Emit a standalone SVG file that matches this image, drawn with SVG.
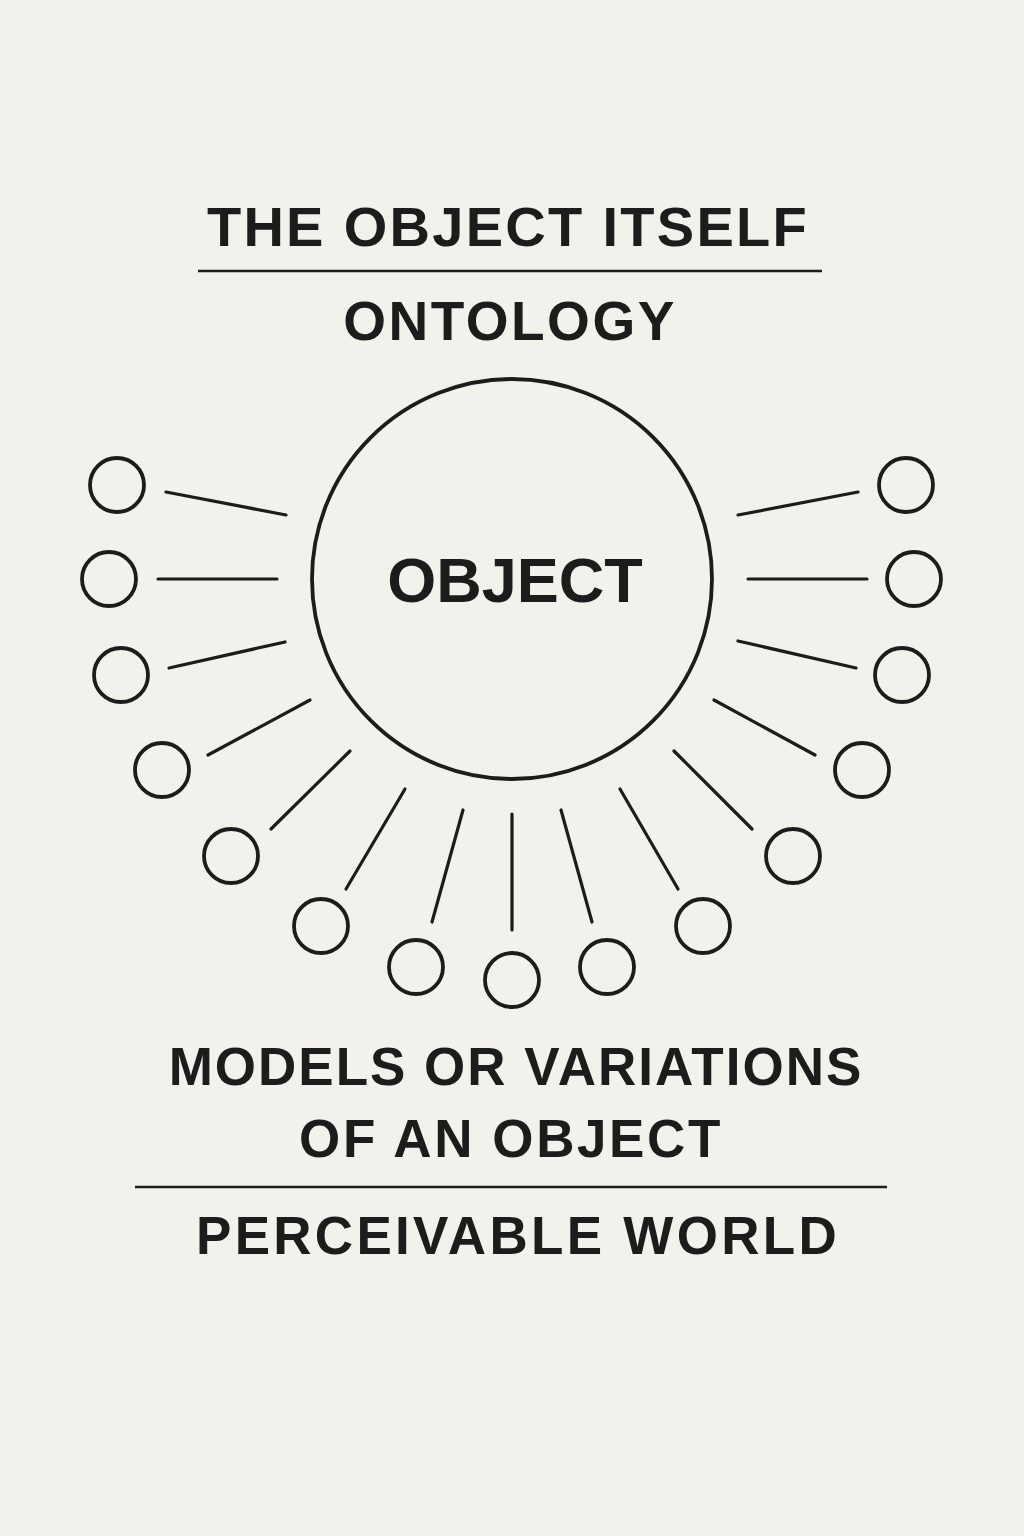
<svg xmlns="http://www.w3.org/2000/svg" width="1024" height="1536" viewBox="0 0 1024 1536">
<style>
.t{font-family:"Liberation Sans",Arial,sans-serif;font-weight:bold;fill:#1c1c1c;text-anchor:middle}
.n{fill:none;stroke:#1c1c1c;stroke-width:3.8}
.c{stroke:#1c1c1c;stroke-width:3.2;stroke-linecap:round}
.r{stroke:#1c1c1c;stroke-width:2.5}
</style>
<rect width="1024" height="1536" fill="#f3f1ec"/>
<g id="header">
<text class="t" x="508" y="246" font-size="56" letter-spacing="2.3">THE OBJECT ITSELF</text>
<line class="r" x1="198" y1="271" x2="822" y2="271"/>
<text class="t" x="510" y="340" font-size="55" letter-spacing="2.5">ONTOLOGY</text>
</g>
<g id="object">
<circle class="n" cx="512" cy="579" r="200" stroke-width="3"/>
<text class="t" x="515" y="602" font-size="63">OBJECT</text>
</g>
<g id="connectors">
<line class="c" x1="166" y1="492" x2="286" y2="515"/>
<line class="c" x1="158" y1="579" x2="277" y2="579"/>
<line class="c" x1="169" y1="668" x2="285" y2="642"/>
<line class="c" x1="208" y1="755" x2="310" y2="700"/>
<line class="c" x1="271" y1="829" x2="350" y2="751"/>
<line class="c" x1="346" y1="889" x2="405" y2="789"/>
<line class="c" x1="432" y1="922" x2="463" y2="810"/>
<line class="c" x1="512" y1="930" x2="512" y2="814"/>
<line class="c" x1="592" y1="922" x2="561" y2="810"/>
<line class="c" x1="678" y1="889" x2="620" y2="789"/>
<line class="c" x1="752" y1="829" x2="674" y2="751"/>
<line class="c" x1="815" y1="755" x2="714" y2="700"/>
<line class="c" x1="856" y1="668" x2="738" y2="641"/>
<line class="c" x1="867" y1="579" x2="748" y2="579"/>
<line class="c" x1="858" y1="492" x2="738" y2="515"/>
</g>
<g id="models">
<circle id="m1" class="n" cx="117" cy="485" r="27"/>
<circle id="m2" class="n" cx="109" cy="579" r="27"/>
<circle id="m3" class="n" cx="121" cy="675" r="27"/>
<circle id="m4" class="n" cx="162" cy="770" r="27"/>
<circle id="m5" class="n" cx="231" cy="856" r="27"/>
<circle id="m6" class="n" cx="321" cy="926" r="27"/>
<circle id="m7" class="n" cx="416" cy="967" r="27"/>
<circle id="m8" class="n" cx="512" cy="980" r="27"/>
<circle id="m9" class="n" cx="607" cy="967" r="27"/>
<circle id="m10" class="n" cx="703" cy="926" r="27"/>
<circle id="m11" class="n" cx="793" cy="856" r="27"/>
<circle id="m12" class="n" cx="862" cy="770" r="27"/>
<circle id="m13" class="n" cx="902" cy="675" r="27"/>
<circle id="m14" class="n" cx="914" cy="579" r="27"/>
<circle id="m15" class="n" cx="906" cy="485" r="27"/>
</g>
<g id="footer">
<text class="t" x="516" y="1085" font-size="53" letter-spacing="2">MODELS OR VARIATIONS</text>
<text class="t" x="511" y="1157" font-size="53" letter-spacing="2.6">OF AN OBJECT</text>
<line class="r" x1="135" y1="1187" x2="887" y2="1187"/>
<text class="t" x="518" y="1254" font-size="53" letter-spacing="3.3">PERCEIVABLE WORLD</text>
</g>
</svg>
